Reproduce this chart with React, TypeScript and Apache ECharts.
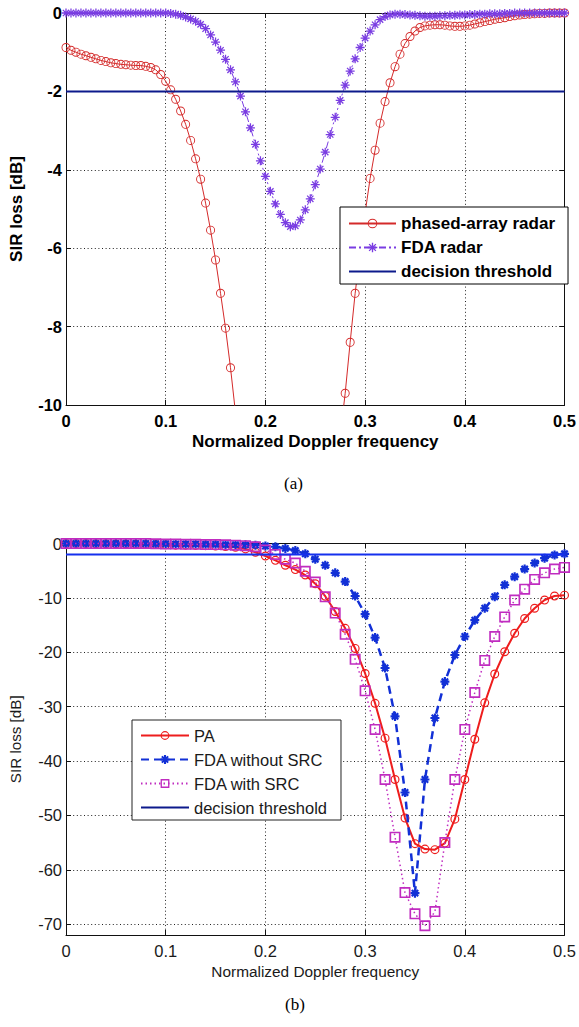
import React, { useEffect, useRef } from "react";
import * as echarts from "echarts";

// ---------- (a) data ----------
const freqA = [
  0, 0.005, 0.01, 0.015, 0.02, 0.025, 0.03, 0.035, 0.04, 0.045,
  0.05, 0.055, 0.06, 0.065, 0.07, 0.075, 0.08, 0.085, 0.09, 0.095,
  0.1, 0.105, 0.11, 0.115, 0.12, 0.125, 0.13, 0.135, 0.14, 0.145,
  0.15, 0.155, 0.16, 0.165, 0.17, 0.175, 0.18, 0.185, 0.19, 0.195,
  0.2, 0.205, 0.21, 0.215, 0.22, 0.225, 0.23, 0.235, 0.24, 0.245,
  0.25, 0.255, 0.26, 0.265, 0.27, 0.275, 0.28, 0.285, 0.29, 0.295,
  0.3, 0.305, 0.31, 0.315, 0.32, 0.325, 0.33, 0.335, 0.34, 0.345,
  0.35, 0.355, 0.36, 0.365, 0.37, 0.375, 0.38, 0.385, 0.39, 0.395,
  0.4, 0.405, 0.41, 0.415, 0.42, 0.425, 0.43, 0.435, 0.44, 0.445,
  0.45, 0.455, 0.46, 0.465, 0.47, 0.475, 0.48, 0.485, 0.49, 0.495, 0.5,
];
const phasedArrayA = [
  -0.88, -0.95, -1.0, -1.05, -1.09, -1.13, -1.17, -1.21, -1.24, -1.27,
  -1.29, -1.31, -1.32, -1.33, -1.34, -1.34, -1.36, -1.39, -1.45, -1.57,
  -1.74, -1.96, -2.2, -2.5, -2.84, -3.25, -3.72, -4.24, -4.85, -5.54,
  -6.3, -7.15, -8.04, -9.05, -10.2, -11.5, -13.0, -14.6, -16.3, -18.0,
  -19.7, -21.2, -22.5, -23.4, -23.9, -24.0, -23.7, -22.9, -21.7, -20.2,
  -18.5, -16.7, -14.9, -13.2, -11.9, -10.8, -9.7, -8.4, -7.15, -6.1,
  -5.1, -4.22, -3.5, -2.81, -2.26, -1.78, -1.37, -1.05, -0.78, -0.6,
  -0.46, -0.37, -0.33, -0.31, -0.3, -0.3, -0.31, -0.33, -0.34, -0.34,
  -0.33, -0.31, -0.28, -0.25, -0.22, -0.19, -0.16, -0.14, -0.12, -0.09,
  -0.07, -0.05, -0.04, -0.03, -0.02, -0.01, -0.01, 0, 0, 0, 0,
];
const fdaA = [
  0, 0, 0, 0, 0, 0, 0, 0, 0, 0,
  0, 0, 0, 0, 0, 0, 0, 0, 0, 0,
  0, -0.01, -0.03, -0.06, -0.1, -0.15, -0.21, -0.29, -0.4, -0.56,
  -0.74, -0.95, -1.18, -1.45, -1.76, -2.12, -2.52, -2.93, -3.35, -3.77,
  -4.17, -4.55, -4.87, -5.14, -5.35, -5.45, -5.43, -5.28, -5.02, -4.74,
  -4.38, -3.98, -3.55, -3.1, -2.66, -2.23, -1.84, -1.48, -1.17, -0.88,
  -0.64, -0.46, -0.3, -0.17, -0.09, -0.05, -0.03, -0.03, -0.04, -0.05,
  -0.06, -0.07, -0.08, -0.08, -0.08, -0.07, -0.07, -0.06, -0.06, -0.05,
  -0.05, -0.04, -0.04, -0.03, -0.03, -0.02, -0.02, -0.02, -0.01, -0.01,
  0, 0, 0, 0, 0, 0, 0, 0, 0, 0, 0,
];
const thresholdA = -2;

// ---------- (b) data ----------
const freqB = [
  0, 0.01, 0.02, 0.03, 0.04, 0.05, 0.06, 0.07, 0.08, 0.09,
  0.1, 0.11, 0.12, 0.13, 0.14, 0.15, 0.16, 0.17, 0.18, 0.19,
  0.2, 0.21, 0.22, 0.23, 0.24, 0.25, 0.26, 0.27, 0.28, 0.29,
  0.3, 0.31, 0.32, 0.33, 0.34, 0.35, 0.36, 0.37, 0.38, 0.39,
  0.4, 0.41, 0.42, 0.43, 0.44, 0.45, 0.46, 0.47, 0.48, 0.49, 0.5,
];
const paB = [
  0, 0, 0, -0.05, -0.05, -0.1, -0.1, -0.15, -0.2, -0.2,
  -0.25, -0.3, -0.3, -0.35, -0.4, -0.45, -0.55, -0.7, -1.0, -1.6,
  -2.3, -3.1, -4.0, -4.8, -5.8, -7.4, -9.7, -12.5, -15.6, -19.3,
  -23.9, -29.4, -35.8, -43.4, -50.5, -55.2, -56.2, -56.3, -55.1, -50.7,
  -43.4, -36.0, -29.3, -24.0, -19.9, -16.5, -13.8, -11.9, -10.4, -9.65, -9.5,
];
const fdaNoSrcB = [
  0, 0, 0, 0, 0, 0, 0, 0, 0, -0.05,
  -0.05, -0.1, -0.1, -0.1, -0.15, -0.15, -0.2, -0.2, -0.25, -0.3,
  -0.45, -0.6, -0.9, -1.3, -1.9, -2.9, -4.0, -5.4, -7.0, -9.65,
  -13.0, -17.3, -22.9, -31.8, -45.8, -64.3, -43.4, -32.1, -25.4, -20.5,
  -17.1, -14.1, -11.9, -9.8, -7.6, -6.1, -4.7, -3.6, -2.7, -2.1, -1.9,
];
const fdaSrcB = [
  0, 0, 0, 0, 0, 0, 0, 0, 0, -0.05,
  -0.1, -0.1, -0.15, -0.15, -0.2, -0.2, -0.25, -0.3, -0.4, -0.6,
  -1.2, -2.0, -2.9, -3.6, -5.1, -7.1, -9.8, -12.8, -16.7, -21.3,
  -27.1, -34.2, -43.4, -54.0, -64.2, -68.1, -70.3, -67.7, -55.0, -43.4,
  -34.2, -27.4, -21.5, -17.1, -13.5, -10.4, -8.4, -6.6, -5.4, -4.7, -4.4,
];
const thresholdB = -2;
const yTicksB = [-70, -60, -50, -40, -30, -20, -10, 0];

const seriesNamesA = ["phased-array radar", "FDA radar", "decision threshold"];
const seriesNamesB = ["PA", "FDA without SRC", "FDA with SRC", "decision threshold"];

// ---------- symbols ----------
const RING =
  "path://M0,-5A5,5,0,1,1,0,5A5,5,0,1,1,0,-5ZM0,-4A4,4,0,1,0,0,4A4,4,0,1,0,0,-4Z";
const RING_B =
  "path://M0,-5A5,5,0,1,1,0,5A5,5,0,1,1,0,-5ZM0,-3.7A3.7,3.7,0,1,0,0,3.7A3.7,3.7,0,1,0,0,-3.7Z";
const SQUARE_RING =
  "path://M-5,-5L5,-5L5,5L-5,5ZM-3.5,-3.5L-3.5,3.5L3.5,3.5L3.5,-3.5Z";
const STAR =
  "path://M-0.7,-5L0.7,-5L0.7,5L-0.7,5ZM-5,-0.7L5,-0.7L5,0.7L-5,0.7Z" +
  "M-3.0,-4.0L4.0,3.0L3.0,4.0L-4.0,-3.0Z" +
  "M-3.0,4.0L-4.0,3.0L3.0,-4.0L4.0,-3.0Z";
const STAR_BOLD =
  "path://M-1.2,-5L1.2,-5L1.2,5L-1.2,5ZM-5,-1.2L5,-1.2L5,1.2L-5,1.2Z" +
  "M-2.7,-4.4L4.4,2.7L2.7,4.4L-4.4,-2.7Z" +
  "M-2.7,4.4L-4.4,2.7L2.7,-4.4L4.4,-2.7Z";

const FONT = "Liberation Sans, Arial, Helvetica, sans-serif";

const zip = (xs: number[], ys: number[]) => xs.map((x, i) => [x, ys[i]]);

function makeAxes(
  gridIndex: number,
  bold: boolean,
  fontSize: number,
  color: string,
  yMin: number,
  yInterval: number | null,
  yCustom: number[] | null,
  xNameGap: number,
  xNameSize: number,
  yNameGap: number,
  yNameSize: number,
  labelMarginX: number
) {
  const fw = bold ? "bold" : "normal";
  const lineColor = "#111";
  const dotted = { color: "#222", type: [1, 2.6], width: 1 };
  const tick = { inside: true, length: 5, lineStyle: { color: lineColor } };
  const xCommon = {
    gridIndex,
    type: "value",
    min: 0,
    max: 0.5,
    interval: 0.1,
    axisLine: { onZero: false, lineStyle: { color: lineColor, width: 1 } },
    axisTick: tick,
  };
  const xBottom = {
    ...xCommon,
    position: "bottom",
    axisLabel: {
      margin: labelMarginX,
      fontSize,
      fontWeight: fw,
      fontFamily: FONT,
      color,
    },
    splitLine: { show: true, lineStyle: dotted },
    name: "Normalized Doppler frequency",
    nameLocation: "middle",
    nameGap: xNameGap,
    nameTextStyle: { fontSize: xNameSize, fontWeight: fw, fontFamily: FONT, color },
  };
  const xTop = {
    ...xCommon,
    position: "top",
    axisLabel: { show: false },
    splitLine: { show: false },
  };
  const yCommon: any = {
    gridIndex,
    type: "value",
    min: yMin,
    max: 0,
    axisLine: { onZero: false, lineStyle: { color: lineColor, width: 1 } },
    axisTick: { ...tick },
  };
  if (yInterval !== null) yCommon.interval = yInterval;
  if (yCustom) {
    yCommon.axisTick = { ...tick, customValues: yCustom };
  }
  const yLeft = {
    ...yCommon,
    position: "left",
    axisLabel: {
      margin: 4,
      fontSize,
      fontWeight: fw,
      fontFamily: FONT,
      color,
      ...(yCustom ? { customValues: yCustom } : {}),
    },
    splitLine: { show: true, lineStyle: dotted },
    name: "SIR loss [dB]",
    nameLocation: "middle",
    nameRotate: 90,
    nameGap: yNameGap,
    nameTextStyle: { fontSize: yNameSize, fontWeight: fw, fontFamily: FONT, color },
  };
  const yRight = {
    ...yCommon,
    position: "right",
    axisLabel: { show: false },
    splitLine: { show: false },
  };
  return { x: [xBottom, xTop], y: [yLeft, yRight] };
}

export default function App() {
  const ref = useRef<HTMLDivElement>(null);

  useEffect(() => {
    if (!ref.current) return;
    const chart = echarts.init(ref.current, null, { renderer: "svg" });

    const axA = makeAxes(0, true, 16.5, "#000", -10, 2, null, 28, 17, 41, 17, 7);
    const axB = makeAxes(1, false, 16.5, "#1a1a1a", -72, null, yTicksB, 29, 15.4, 43, 15.2, 7);

    const option: any = {
      animation: false,
      backgroundColor: "#fff",
      grid: [
        { left: 66, top: 13, width: 500, height: 392 },
        { left: 66, top: 543.5, width: 500, height: 391.5 },
      ],
      xAxis: [...axA.x, ...axB.x],
      yAxis: [...axA.y, ...axB.y],
      legend: [
        {
          data: [
            seriesNamesA[0],
            seriesNamesA[1],
            { name: seriesNamesA[2], itemStyle: { opacity: 0 } },
          ],
          orient: "vertical",
          left: 340,
          top: 207,
          padding: [8, 13, 4, 8],
          itemGap: 7,
          itemWidth: 47,
          itemHeight: 12,
          selectedMode: false,
          backgroundColor: "#fff",
          borderColor: "#000",
          borderWidth: 1,
          borderRadius: 0,
          textStyle: { fontSize: 17, fontWeight: "bold", fontFamily: FONT, color: "#000" },
        },
        {
          data: [
            seriesNamesB[0],
            seriesNamesB[1],
            seriesNamesB[2],
            { name: seriesNamesB[3], itemStyle: { opacity: 0 } },
          ],
          orient: "vertical",
          left: 132,
          top: 720,
          padding: [7, 14, 4, 8],
          itemGap: 7,
          itemWidth: 48,
          itemHeight: 11,
          selectedMode: false,
          backgroundColor: "#fff",
          borderColor: "#222",
          borderWidth: 1,
          borderRadius: 0,
          textStyle: { fontSize: 16.5, fontFamily: FONT, color: "#1a1a1a" },
        },
      ],
      graphic: [
        {
          type: "text",
          left: 284,
          top: 475,
          style: { text: "(a)", fontSize: 17, fontFamily: "Liberation Serif, Times New Roman, serif", fill: "#000" },
        },
        {
          type: "text",
          left: 285,
          top: 996,
          style: { text: "(b)", fontSize: 17, fontFamily: "Liberation Serif, Times New Roman, serif", fill: "#000" },
        },
      ],
      series: [
        {
          name: seriesNamesA[0],
          type: "line",
          xAxisIndex: 0,
          yAxisIndex: 0,
          data: zip(freqA, phasedArrayA),
          symbol: RING,
          symbolSize: 9,
          itemStyle: { color: "#d42a2a" },
          lineStyle: { color: "#d42a2a", width: 1 },
          clip: true,
          z: 2,
        },
        {
          name: seriesNamesA[1],
          type: "line",
          xAxisIndex: 0,
          yAxisIndex: 0,
          data: zip(freqA, fdaA),
          symbol: STAR,
          symbolSize: 9,
          itemStyle: { color: "#7a3de2" },
          lineStyle: { color: "#7a3de2", width: 1, type: [7, 3, 2, 3] },
          clip: true,
          z: 3,
        },
        {
          name: seriesNamesA[2],
          type: "line",
          xAxisIndex: 0,
          yAxisIndex: 0,
          data: [
            [0, thresholdA],
            [0.5, thresholdA],
          ],
          symbol: "none",
          itemStyle: { color: "#0d1a8c" },
          lineStyle: { color: "#0d1a8c", width: 2 },
          z: 4,
        },
        {
          name: seriesNamesB[0],
          type: "line",
          xAxisIndex: 2,
          yAxisIndex: 2,
          data: zip(freqB, paB),
          symbol: RING_B,
          symbolSize: 9,
          itemStyle: { color: "#ee1d1d" },
          lineStyle: { color: "#ee1d1d", width: 2 },
          clip: true,
          z: 2,
        },
        {
          name: seriesNamesB[1],
          type: "line",
          xAxisIndex: 2,
          yAxisIndex: 2,
          data: zip(freqB, fdaNoSrcB),
          symbol: STAR_BOLD,
          symbolSize: 9,
          itemStyle: { color: "#1230d6" },
          lineStyle: { color: "#1230d6", width: 2.5, type: [8, 5] },
          clip: true,
          z: 3,
        },
        {
          name: seriesNamesB[2],
          type: "line",
          xAxisIndex: 2,
          yAxisIndex: 2,
          data: zip(freqB, fdaSrcB),
          symbol: SQUARE_RING,
          symbolSize: 11,
          itemStyle: { color: "#c02cc0" },
          lineStyle: { color: "#c02cc0", width: 1.5, type: [1.5, 3] },
          clip: false,
          z: 4,
        },
        {
          name: seriesNamesB[3],
          type: "line",
          xAxisIndex: 2,
          yAxisIndex: 2,
          data: [
            [0, thresholdB],
            [0.5, thresholdB],
          ],
          symbol: "none",
          itemStyle: { color: "#1530ee" },
          lineStyle: { color: "#1530ee", width: 2 },
          z: 5,
        },
      ],
    };

    chart.setOption(option);
    return () => chart.dispose();
  }, []);

  return (
    <div
      ref={ref}
      style={{ position: "fixed", left: 0, top: 0, width: 579, height: 1027, background: "#fff" }}
    />
  );
}
